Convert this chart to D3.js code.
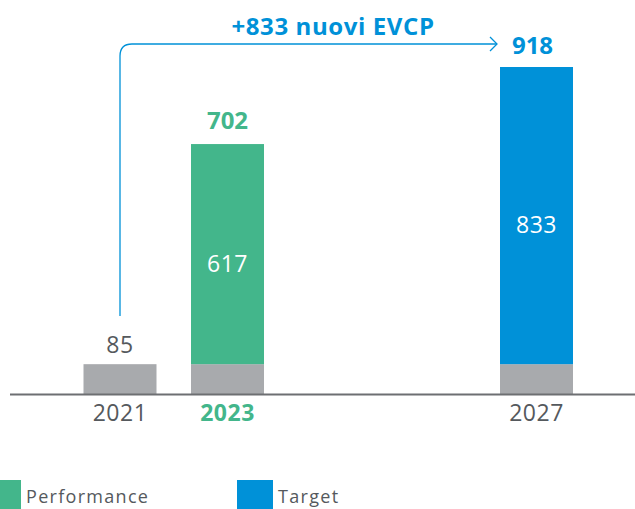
<!DOCTYPE html>
<html>
<head>
<meta charset="utf-8">
<script src="https://cdn.jsdelivr.net/npm/d3@7"></script>
<style>
  body { margin: 0; background: #fff; }
  svg { display: block; font-family: "Open Sans", "Noto Sans", sans-serif; }
</style>
</head>
<body>
<div id="chart"></div>
<script>
// data
const years = ["2021", "2023", "2027"]
const baseValues = [85, 85, 85]
const addValues = [0, 617, 833]
const totals = [85, 702, 918]
const addType = ["none", "performance", "target"]
const arrowLabel = "+833 nuovi EVCP"
const legendItems = ["Performance", "Target"]

const W = 635, H = 509
const colors = {performance: "#43b68b", target: "#0091d8", base: "#a8aaad", axis: "#6d6f72", text: "#55595d"}

const svg = d3.select("#chart").append("svg")
    .attr("width", W)
    .attr("height", H)

// years are not evenly spaced in the original, piecewise scale
const x = d3.scaleLinear()
    .domain([2021, 2023, 2027])
    .range([120, 227.5, 536.5])
const barW = 73

const y = d3.scaleLinear()
    .domain([0, 918])
    .range([394.5, 67])

const rows = years.map((yr, i) => ({year: yr, base: baseValues[i], add: addValues[i], total: totals[i], type: addType[i]}))

// gray base bars
svg.append("g").selectAll("rect")
    .data(rows)
    .enter().append("rect")
    .attr("x", d => x(+d.year) - barW / 2)
    .attr("y", d => y(d.base))
    .attr("width", barW)
    .attr("height", d => y(0) - y(d.base))
    .attr("fill", colors.base)

// increments
svg.append("g").selectAll("rect")
    .data(rows.filter(d => d.add > 0))
    .enter().append("rect")
    .attr("x", d => x(+d.year) - barW / 2)
    .attr("y", d => y(d.base + d.add))
    .attr("width", barW)
    .attr("height", d => y(d.base) - y(d.base + d.add))
    .attr("fill", d => colors[d.type])

// axis line
svg.append("line")
    .attr("x1", 10).attr("x2", W)
    .attr("y1", y(0)).attr("y2", y(0))
    .attr("stroke", colors.axis)
    .attr("stroke-width", 2)

// year labels
svg.append("g").selectAll("text")
    .data(rows)
    .enter().append("text")
    .attr("x", d => x(+d.year))
    .attr("y", 421)
    .attr("text-anchor", "middle")
    .style("font-size", "23px")
    .style("letter-spacing", "0.5px")
    .style("font-weight", d => d.type == "performance" ? 700 : 400)
    .attr("fill", d => d.type == "performance" ? colors.performance : colors.text)
    .text(d => d.year)

// value inside the colored part
svg.append("g").selectAll("text")
    .data(rows.filter(d => d.add > 0))
    .enter().append("text")
    .attr("x", d => x(+d.year))
    .attr("y", d => y(d.base + d.add / 2) + 17.5)
    .attr("text-anchor", "middle")
    .style("font-size", "23px")
    .style("letter-spacing", "0.5px")
    .attr("fill", "#fff")
    .text(d => d.add)

// 2021 value label
svg.append("text")
    .attr("x", x(2021))
    .attr("y", y(rows[0].total) - 11)
    .attr("text-anchor", "middle")
    .style("font-size", "23px")
    .style("letter-spacing", "0.5px")
    .attr("fill", colors.text)
    .text(rows[0].total)

// 2023 total
svg.append("text")
    .attr("x", x(2023))
    .attr("y", y(rows[1].total) - 15)
    .attr("text-anchor", "middle")
    .style("font-size", "24px")
    .style("font-weight", 700)
    .attr("fill", colors.performance)
    .text(rows[1].total)

// arrow from 2021 to 2027 total
const ax = x(2021), ay = 44, ex = 497, r = 12
svg.append("path")
    .attr("d", `M${ax},316 V${ay + r} Q${ax},${ay} ${ax + r},${ay} H${ex}`)
    .attr("fill", "none")
    .attr("stroke", colors.target)
    .attr("stroke-width", 1.3)
svg.append("path")
    .attr("d", `M${ex - 7},${ay - 7} L${ex},${ay} L${ex - 7},${ay + 7}`)
    .attr("fill", "none")
    .attr("stroke", colors.target)
    .attr("stroke-width", 1.3)

svg.append("text")
    .attr("x", 333)
    .attr("y", 35)
    .attr("text-anchor", "middle")
    .style("font-size", "24px")
    .style("letter-spacing", "0.6px")
    .style("font-weight", 700)
    .attr("fill", colors.target)
    .text(arrowLabel)

svg.append("text")
    .attr("x", x(2027) - 4)
    .attr("y", 54)
    .attr("text-anchor", "middle")
    .style("font-size", "24px")
    .style("font-weight", 700)
    .attr("fill", colors.target)
    .text(rows[2].total)

// legend
const legend = svg.append("g").selectAll("g")
    .data(legendItems)
    .enter().append("g")
    .attr("transform", (d, i) => `translate(${i == 0 ? -15 : 237},480)`)
legend.append("rect")
    .attr("width", 36).attr("height", 29)
    .attr("fill", (d, i) => i == 0 ? colors.performance : colors.target)
legend.append("text")
    .attr("x", 41).attr("y", 23)
    .style("font-size", "18px")
    .style("letter-spacing", "1.3px")
    .attr("fill", colors.text)
    .text(d => d)
</script>
</body>
</html>
